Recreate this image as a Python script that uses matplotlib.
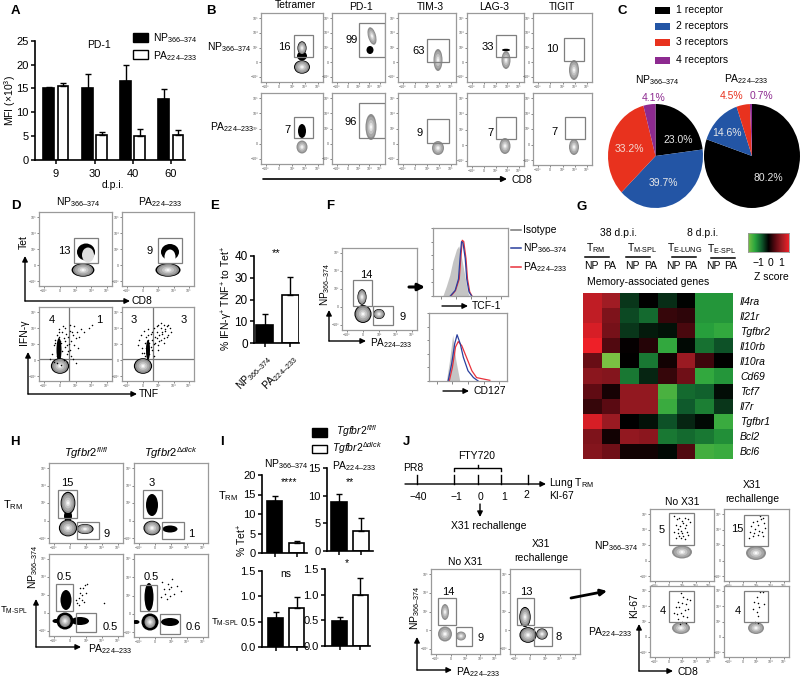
import matplotlib
matplotlib.use("Agg")
import matplotlib.pyplot as plt
from matplotlib.colors import LinearSegmentedColormap
from matplotlib.patches import Ellipse, Rectangle
import numpy as np

plt.rcParams["font.family"] = ["Liberation Sans", "DejaVu Sans"]
plt.rcParams["mathtext.fontset"] = "custom"
plt.rcParams["mathtext.rm"] = "Liberation Sans"
plt.rcParams["mathtext.it"] = "Liberation Sans:italic"
plt.rcParams["mathtext.bf"] = "Liberation Sans:bold"
plt.rcParams["mathtext.default"] = "regular"

NP = "NP$_{366\u2013374}$"
PA = "PA$_{224\u2013233}$"
TGF_FL = r"$\mathit{Tgfbr2}^{\mathit{fl/fl}}$"
TGF_DL = r"$\mathit{Tgfbr2}^{\mathit{\Delta dlck}}$"
FLOW_TICKS = ["\u221210\u00b3", "0", "10\u00b3", "10\u2074", "10\u2075"]

# Panel A
a_days = ["9", "30", "40", "60"]
a_np = [15.0, 15.1, 16.5, 12.7]
a_np_top = [15.3, 18.0, 20.0, 14.9]
a_pa = [15.6, 5.1, 5.0, 5.2]
a_pa_top = [16.2, 5.9, 6.5, 6.3]

# Panel C
c_labels = ["1 receptor", "2 receptors", "3 receptors", "4 receptors"]
c_np = [23.0, 39.7, 33.2, 4.1]
c_pa = [80.2, 14.6, 4.5, 0.7]
c_colors = ["#000000", "#2355a5", "#e8321e", "#8d2a90"]

# Panel E
e_vals = [8.5, 22.0]
e_tops = [13.2, 30.5]

# Panel F histograms (x and y in % of the box)
tcf_iso_x = [14, 18.5, 23, 27, 32, 35, 38, 43, 47, 49]
tcf_iso_y = [0, 14, 30, 50, 68, 73, 60, 30, 5, 0]
tcf_np_x = [23, 29.5, 34, 36, 38, 40, 43, 45, 48, 51.5]
tcf_np_y = [0, 8, 25, 55, 80, 78, 55, 25, 6, 0]
tcf_pa_x = [24, 30, 35, 37, 39, 41, 44, 46, 49, 52]
tcf_pa_y = [0, 8, 25, 55, 82, 80, 55, 25, 6, 0]
cd127_iso_x = [23, 27, 31, 35, 40]
cd127_iso_y = [0, 30, 67, 30, 0]
cd127_np_x = [24.5, 29, 33, 36, 40, 44, 50, 57, 63]
cd127_np_y = [0, 25, 55, 68, 55, 35, 15, 5, 0]
cd127_pa_x = [26, 30, 34, 37.5, 42, 48, 55, 61, 78]
cd127_pa_y = [0, 20, 50, 58, 52, 35, 15, 5, 1]

# Panel G
g_genes = ["Il4ra", "Il21r", "Tgfbr2", "Il10rb", "Il10ra", "Cd69", "Tcf7", "Il7r",
           "Tgfbr1", "Bcl2", "Bcl6"]
g_z = [
    [1.2, 1.0, -0.3, 0.0, -0.25, -0.02, -0.9, -0.9],
    [1.2, 0.75, -0.4, -0.6, 0.3, 0.25, -0.9, -0.9],
    [1.35, 0.7, -0.3, -0.15, -0.1, 0.4, -0.95, -1.05],
    [1.5, 0.45, 0.03, 0.2, -1.05, -0.05, -0.65, -0.45],
    [0.6, -1.5, 0.0, -0.7, 0.1, 0.95, 0.35, 0.0],
    [0.85, 0.8, -0.7, -0.2, 0.3, 0.65, -1.05, -0.9],
    [0.55, 0.12, 0.9, 0.9, -1.2, -0.6, -0.55, -0.08],
    [0.3, 0.5, 0.9, 0.9, -1.1, -0.5, -0.75, -0.3],
    [1.35, 0.95, 0.0, -0.1, -0.45, -0.2, -0.05, -1.1],
    [0.75, 0.1, 0.9, 0.85, -0.7, -0.6, -0.7, -0.85],
    [0.8, 0.65, 0.1, 0.1, -0.05, 0.45, -1.15, -1.1],
]

# Panel I
i_np_trm = [13.4, 2.5]
i_np_trm_top = [14.7, 3.2]
i_pa_trm = [8.8, 3.7]
i_pa_trm_top = [10.3, 5.9]
i_np_spl = [0.58, 0.77]
i_np_spl_top = [0.69, 0.99]
i_pa_spl = [0.48, 1.0]
i_pa_spl_top = [0.57, 1.33]

# Flow plot events (x and y in % of the box)
ifn1_x = [15, 18, 20, 22, 24, 26, 28, 30, 32, 34, 36, 38, 40, 42, 44, 46, 48, 50, 52, 55, 58, 62, 68, 72,
          20, 24, 28, 31, 35, 39, 43, 47, 51, 30, 34, 38, 22, 27, 33, 37, 41, 45, 36, 40, 44, 25, 29, 48, 53, 42]
ifn1_y = [30, 36, 48, 56, 62, 44, 70, 52, 66, 58, 72, 48, 60, 68, 54, 62, 74, 58, 66, 60, 70, 66, 72, 76,
          26, 24, 60, 40, 46, 36, 42, 30, 24, 22, 28, 26, 52, 66, 74, 64, 50, 66, 54, 40, 34, 34, 54, 48, 44, 76]
ifn2_x = [22, 24, 26, 28, 30, 32, 34, 36, 38, 40, 42, 44, 46, 48, 50, 52, 54, 56, 58, 60, 62, 64, 66, 68,
          30, 34, 38, 42, 46, 50, 54, 58, 62, 36, 40, 44, 48, 52, 56, 60, 28, 32, 44, 50, 58, 64, 36, 42, 48, 54]
ifn2_y = [48, 56, 62, 44, 68, 52, 60, 70, 52, 64, 56, 72, 60, 66, 76, 62, 72, 66, 76, 68, 74, 62, 72, 66,
          38, 44, 36, 42, 52, 48, 56, 58, 60, 62, 46, 50, 74, 54, 64, 70, 38, 34, 34, 42, 52, 76, 56, 66, 58, 78]
spl_fl_x = [38, 40, 42, 44, 46, 48, 50, 52, 45, 41, 37, 74, 42, 47]
spl_fl_y = [40, 46, 52, 44, 58, 62, 52, 64, 50, 38, 44, 40, 58, 42]
spl_dl_x = [36, 40, 42, 46, 48, 50, 54, 58, 64, 44, 52, 38, 47]
spl_dl_y = [48, 58, 52, 64, 50, 60, 52, 62, 56, 46, 70, 66, 58]
ki_np_no_x = [38, 42, 45, 50, 55, 60, 62, 40, 47, 52, 57, 43, 48, 54, 38, 44, 50, 58, 46, 52, 41, 49, 60, 55]
ki_np_no_y = [90, 86, 88, 84, 88, 86, 82, 78, 76, 80, 78, 72, 70, 74, 68, 66, 66, 68, 62, 62, 60, 60, 64, 58]
ki_np_x31_x = [55, 60, 50, 45, 62, 52, 57, 42, 48, 63, 54, 40, 46, 58, 38, 44, 52, 60]
ki_np_x31_y = [90, 88, 84, 82, 80, 78, 86, 76, 72, 74, 70, 68, 66, 68, 60, 62, 64, 62]
ki_pa_no_x = [48, 52, 58, 44, 50, 56, 62, 40, 46, 54, 60, 42, 48, 52, 58, 44, 50, 38, 56, 47]
ki_pa_no_y = [90, 84, 82, 78, 76, 74, 80, 70, 70, 66, 68, 60, 62, 58, 56, 54, 50, 62, 48, 46]
ki_pa_x31_x = [56, 60, 50, 52, 46, 44, 62, 54, 50, 52, 48, 53]
ki_pa_x31_y = [92, 92, 84, 76, 78, 68, 74, 70, 64, 58, 50, 48]

fig = plt.figure(figsize=(8.0, 6.81), dpi=100)
W, H = 800.0, 681.0


def px_axes(l, t, r, b, **kw):
    return fig.add_axes([l / W, 1 - b / H, (r - l) / W, (b - t) / H], **kw)


# overlay in picture pixels, carries texts and arrows
ov = px_axes(0, 0, W, H, zorder=20)
ov.set_xlim(0, W)
ov.set_ylim(H, 0)
ov.axis("off")


def txt(x, y, s, size=8, ha="center", color="black", **kw):
    ov.text(x, y, s, fontsize=size, ha=ha, va="center", color=color, **kw)


def arrow(x0, y0, x1, y1, lw=1.0, ms=8):
    ov.annotate("", xy=(x1, y1), xytext=(x0, y0),
                arrowprops=dict(arrowstyle="-|>", lw=lw, color="black", mutation_scale=ms,
                                shrinkA=0, shrinkB=0))


def axis_arrows(x, y_bottom, y_top, x_right):
    arrow(x, y_bottom, x_right, y_bottom)
    arrow(x, y_bottom, x, y_top)


def flow(l, t, r, b):
    # box uses picture pixels as its scale so gates sit where they were read
    ax = px_axes(l, t, r, b)
    ax.set_xlim(l, r)
    ax.set_ylim(b, t)
    for s in ax.spines.values():
        s.set_color("#9a9a9a")
        s.set_linewidth(0.9)
    ax.set_xticks(np.linspace(l + 5, r - 5, 5))
    ax.set_yticks(np.linspace(b - 5, t + 5, 5))
    ax.set_xticklabels(FLOW_TICKS, fontsize=2.6, color="#555555")
    ax.set_yticklabels(FLOW_TICKS, fontsize=2.6, color="#555555")
    ax.tick_params(length=1.6, width=0.5, color="#555555", pad=0.6)
    return ax


def gate(ax, l, t, r, b):
    ax.add_patch(Rectangle((l, t), r - l, b - t, fill=False, ec="#7f7f7f", lw=0.9, zorder=6))


def blob(ax, cx, cy, w, h, halo=False, angle=0):
    if halo:
        ax.add_patch(Ellipse((cx, cy), w * 1.14, h * 1.12, angle=angle, fc="black", ec="none", zorder=3))
    layers = [(1.0, "#8c8c8c"), (0.8, "#a8a8a8"), (0.55, "#c4c4c4"), (0.32, "#e2e2e2"), (0.13, "#ffffff")]
    for k, c in layers:
        ax.add_patch(Ellipse((cx, cy), w * k, h * k, angle=angle, fc=c, ec="none", zorder=4))


def dense(ax, cx, cy, w, h, angle=0):
    ax.add_patch(Ellipse((cx, cy), w, h, angle=angle, fc="black", ec="none", zorder=3))


def dots(ax, xs, ys):
    ax.scatter(np.array(xs) / 100, np.array(ys) / 100, s=1.2, c="black", linewidths=0,
               transform=ax.transAxes, zorder=5)


def bars(l, t, r, b, ymax, yticks, labels, centers, width, vals, tops, size=8):
    ax = px_axes(l, t, r, b)
    ax.set_xlim(l, r)
    ax.set_ylim(0, ymax)
    ax.spines[["top", "right"]].set_visible(False)
    ax.spines[["left", "bottom"]].set_linewidth(1.2)
    for i, (c, v, e) in enumerate(zip(centers, vals, tops)):
        ax.bar(c, v, width=width, color="black" if i % 2 == 0 else "white", edgecolor="black", linewidth=1.2)
        ax.errorbar(c, v, yerr=[[0], [e - v]], color="black", capsize=2.2, elinewidth=1.0, capthick=1.0)
    ax.set_yticks(yticks)
    ax.set_yticklabels(labels, fontsize=size)
    ax.tick_params(axis="y", length=3, width=1.1, pad=1.5)
    ax.tick_params(axis="x", length=3, width=1.1)
    ax.patch.set_alpha(0)
    return ax


# panel letters
for x, y, s in [(15, 11, "A"), (211, 11, "B"), (622, 11, "C"), (16, 206, "D"), (215, 206, "E"),
                (330, 206, "F"), (582, 207, "G"), (15, 442, "H"), (222, 442, "I"), (406, 442, "J")]:
    txt(x, y, s, size=9.5, fontweight="bold")

# A
ax = bars(35, 41, 185, 159.5, 25, [0, 5, 10, 15, 20, 25], ["0", "5", "10", "15", "20", "25"],
          [48.5, 63, 87.5, 101.5, 125.5, 139.5, 163.5, 178],
          10.5,
          [v for p in zip(a_np, a_pa) for v in p], [v for p in zip(a_np_top, a_pa_top) for v in p])
ax.set_xticks([55.5, 94.5, 132.5, 171])
ax.set_xticklabels(a_days, fontsize=8)
txt(113, 185, "d.p.i.", size=7.5)
txt(10, 100, "MFI ($\\times$10$^{3}$)", size=7.5, rotation=90)
txt(99, 45, "PD-1", size=7.5)
ov.add_patch(Rectangle((133, 33), 15, 9, fc="black", ec="black", lw=1))
ov.add_patch(Rectangle((133, 50), 15, 9, fc="white", ec="black", lw=1))
txt(153, 38, NP, size=7.5, ha="left")
txt(153, 56, PA, size=7.5, ha="left")

# B
txt(229, 47, NP, size=7.5)
txt(232, 127, PA, size=7.5)
for x, y, s in [(295, 5, "Tetramer"), (361, 7, "PD-1"), (430, 7, "TIM-3"), (494, 7, "LAG-3"), (562, 7, "TIGIT")]:
    txt(x, y, s, size=7.5)
a1 = flow(261, 13, 323, 82)
gate(a1, 294, 35, 313, 57)
blob(a1, 302, 67, 14, 12, halo=True)
dense(a1, 302, 56, 10, 9)
blob(a1, 302, 48, 8, 12, halo=True)
txt(284, 47, "16")
a2 = flow(332, 13, 385, 82)
gate(a2, 359, 23, 385, 57)
dense(a2, 370, 50, 7, 8)
blob(a2, 372, 36, 8, 18, angle=-15)
txt(352, 40, "99")
a3 = flow(398, 13, 456, 82)
gate(a3, 427, 39, 449, 62)
blob(a3, 438, 60, 9, 22)
txt(419, 51, "63")
a4 = flow(467, 13, 524, 82)
gate(a4, 496, 35, 516, 57)
blob(a4, 506, 60, 9, 18)
dense(a4, 506, 50, 8, 2.5)
txt(488, 47, "33")
a5 = flow(533, 13, 592, 82)
gate(a5, 564, 38, 584, 61)
blob(a5, 574, 70, 10, 20)
txt(552, 49, "10")
a1 = flow(261, 93, 323, 164)
gate(a1, 294, 117, 313, 138)
blob(a1, 302, 147, 11, 13)
dense(a1, 302, 131, 8, 14)
txt(287, 130, "7")
a2 = flow(332, 93, 385, 164)
gate(a2, 359, 103, 385, 138)
blob(a2, 371, 127, 11, 26)
txt(351, 122, "96")
a3 = flow(398, 93, 456, 164)
gate(a3, 427, 119, 449, 143)
blob(a3, 438, 148, 12, 14)
txt(420, 133, "9")
a4 = flow(467, 93, 524, 166)
gate(a4, 496, 117, 516, 139)
blob(a4, 505, 146, 11, 16)
txt(490, 133, "7")
a5 = flow(533, 93, 592, 165)
gate(a5, 565, 117, 585, 139)
blob(a5, 574, 147, 10, 16)
txt(554, 132, "7")
arrow(263, 179, 507, 179, lw=1.2)
txt(511, 180, "CD8", size=7.5, ha="left")

# C
for y, lab, col in zip([10, 26, 42, 60], c_labels, c_colors):
    ov.add_patch(Rectangle((655, y - 3.5), 15, 7, fc=col, ec="none"))
    txt(676, y, lab, size=7.5, ha="left")
for (l, r), vals in zip([(608, 703), (704, 800)], [c_np, c_pa]):
    ax = px_axes(l, 104, r, 208)
    ax.pie(vals, colors=c_colors, startangle=90, counterclock=False, radius=1.0)
    ax.set_aspect("auto")
    ax.set_xlim(-1, 1)
    ax.set_ylim(-1, 1)
txt(657, 80, NP, size=7.5)
txt(746, 79, PA, size=7.5)
for x, y, v, c in [(678, 140, c_np[0], "#e8e8e8"), (663, 183, c_np[1], "#e8e8e8"), (629, 149, c_np[2], "#f4d8d0"),
                   (654, 98, c_np[3], c_colors[3]), (768, 178, c_pa[0], "#e8e8e8"), (727, 133, c_pa[1], "#e8e8e8"),
                   (732, 96, c_pa[2], c_colors[2]), (761, 96, c_pa[3], c_colors[3])]:
    txt(x, y, f"{v:.1f}%", size=7.5, color=c)

# D
txt(78, 202, NP, size=7.5)
txt(160, 202, PA, size=7.5)
a1 = flow(39, 212, 112, 286)
gate(a1, 74, 238, 98, 263)
dense(a1, 86, 252, 18, 17)
a1.add_patch(Ellipse((88, 255), 12, 15, fc="#dddddd", ec="none", zorder=4))
blob(a1, 83, 270, 20, 12, halo=True)
txt(64, 251, "13")
a2 = flow(122, 212, 194, 286)
gate(a2, 158, 238, 182, 263)
dense(a2, 170, 252, 18, 16)
a2.add_patch(Ellipse((170, 257), 11, 15, fc="white", ec="none", zorder=4))
blob(a2, 168, 270, 22, 12, halo=True)
txt(150, 251, "9")
a1 = flow(39, 307, 112, 381)
a1.axvline(69, color="#777777", lw=0.9)
a1.axhline(359, color="#777777", lw=0.9)
dots(a1, ifn1_x, ifn1_y)
dense(a1, 59, 350, 5, 24)
blob(a1, 60, 366, 16, 14, halo=True)
txt(52, 320, "4")
txt(99, 320, "1")
a2 = flow(122, 307, 194, 381)
a2.axvline(153, color="#777777", lw=0.9)
a2.axhline(359, color="#777777", lw=0.9)
dots(a2, ifn2_x, ifn2_y)
dense(a2, 148, 350, 4, 20)
blob(a2, 143, 366, 16, 14, halo=True)
txt(134, 320, "3")
txt(184, 320, "3")
axis_arrows(25, 301, 256, 130)
txt(132, 301, "CD8", size=7.5, ha="left")
txt(24, 242, "Tet", size=7.5, rotation=90)
axis_arrows(28, 394, 352, 137)
txt(139, 394, "TNF", size=7.5, ha="left")
txt(24, 332, "IFN-\u03b3", size=7.5, rotation=90)

# E
ax = bars(254, 256, 299, 343, 40, [0, 10, 20, 30, 40], ["0", "10", "20", "30", "40"],
          [264.5, 290], 17, e_vals, e_tops, size=8.5)
ax.set_xticks([264.5, 290])
ax.set_xticklabels([NP, PA], rotation=45, ha="right", rotation_mode="anchor", fontsize=7.5)
txt(227, 298, "% IFN-\u03b3$^{+}$ TNF$^{+}$ to Tet$^{+}$", size=7.5, rotation=90)
txt(276, 253, "**", size=8)

# F
a1 = flow(342, 248, 417, 330)
gate(a1, 353, 280, 372, 306)
gate(a1, 373, 306, 393, 325)
blob(a1, 362, 297, 8, 14, halo=True)
blob(a1, 379, 314, 10, 9, halo=True)
blob(a1, 363, 314, 15, 16, halo=True)
txt(366, 275, "14")
txt(403, 317, "9")
axis_arrows(329, 341, 310, 366)
txt(325, 284, NP, size=7.2, rotation=90)
txt(370, 343, PA, size=7.2, ha="left")
arrow(409, 287, 425, 287, lw=2.2, ms=10)
for box, iso, np_h, pa_h in [((433, 228, 508, 296), (tcf_iso_x, tcf_iso_y), (tcf_np_x, tcf_np_y), (tcf_pa_x, tcf_pa_y)),
                             ((429, 313, 507, 381), (cd127_iso_x, cd127_iso_y), (cd127_np_x, cd127_np_y),
                              (cd127_pa_x, cd127_pa_y))]:
    ax = px_axes(*box)
    ax.set_xlim(0, 100)
    ax.set_ylim(0, 100)
    ax.fill(iso[0], iso[1], color="#c4c4c4", lw=0)
    ax.plot(pa_h[0], pa_h[1], color="#e8323c", lw=0.9)
    ax.plot(np_h[0], np_h[1], color="#2a3f9d", lw=0.9)
    for s in ax.spines.values():
        s.set_color("#9a9a9a")
        s.set_linewidth(0.9)
    ax.set_xticks([10, 30, 50, 70, 90])
    ax.set_yticks([0, 20, 40, 60, 80, 100])
    ax.tick_params(length=1.8, width=0.5, color="#555555", labelleft=False, labelbottom=False)
arrow(442, 306, 468, 306)
txt(472, 306, "TCF-1", size=7.5, ha="left")
arrow(443, 391, 469, 391)
txt(474, 391, "CD127", size=7.5, ha="left")
for y, lab, c in [(230, "Isotype", "#777777"), (248, NP, "#2a3f9d"), (267, PA, "#e8323c")]:
    ov.plot([511, 521], [y, y], color=c, lw=1.1)
    txt(523, y, lab, size=7.5, ha="left")

# G
z_cmap = LinearSegmentedColormap.from_list("z", [(0, "#7ac143"), (1 / 6, "#2aa63e"), (1 / 3, "#0f5a2c"), (0.5, "#000000"),
                                                 (2 / 3, "#5a0a12"), (5 / 6, "#a01c24"), (1, "#ee2028")])
ax = px_axes(583, 293, 733, 459)
ax.imshow(np.array(g_z), cmap=z_cmap, vmin=-1.5, vmax=1.5, aspect="auto", interpolation="nearest")
ax.set_xticks([])
ax.yaxis.tick_right()
ax.set_yticks(range(len(g_genes)))
ax.set_yticklabels(g_genes, fontsize=7.5, style="italic")
ax.tick_params(axis="y", length=0, pad=5)
for s in ax.spines.values():
    s.set_visible(False)
cb = px_axes(748, 233, 789, 252)
cb.imshow(np.linspace(-1.5, 1.5, 128).reshape(1, -1), cmap=z_cmap, vmin=-1.5, vmax=1.5, aspect="auto")
cb.set_xticks([])
cb.set_yticks([])
for s in cb.spines.values():
    s.set_color("#999999")
    s.set_linewidth(0.6)
txt(618, 233, "38 d.p.i.", size=7.5)
txt(703, 233, "8 d.p.i.", size=7.5)
for x, y, s in [(596, 248, "T$_{RM}$"), (642, 248, "T$_{M\u2011SPL}$"), (685, 248, "T$_{E\u2011LUNG}$"), (722, 249, "T$_{E\u2011SPL}$")]:
    txt(x, y, s, size=7.5)
for x0, x1, y in [(585, 609, 257), (626, 650, 257), (672, 696, 257), (711, 735, 258)]:
    ov.plot([x0, x1], [y, y], color="black", lw=1.1)
for x, s in [(591, "NP"), (610, "PA"), (632, "NP"), (651, "PA"), (673, "NP"), (691, "PA"), (713, "NP"), (731, "PA")]:
    txt(x, 266, s, size=7.5)
txt(648, 282, "Memory-associated genes", size=7.5)
for x, s in [(758, "\u22121"), (771, "0"), (781, "1")]:
    txt(x, 263, s, size=7.5)
txt(771, 277, "Z score", size=7.5)

# H
txt(86, 453, TGF_FL, size=8)
txt(171, 453, TGF_DL, size=8)
a1 = flow(49, 463, 123, 543)
gate(a1, 58, 490, 77, 518)
gate(a1, 77, 522, 99, 539)
dense(a1, 68, 516, 8, 12)
blob(a1, 68, 503, 13, 20, halo=True)
blob(a1, 85, 529, 15, 9, halo=True)
blob(a1, 68, 528, 16, 15, halo=True)
txt(67, 483, "15")
txt(107, 534, "9")
a2 = flow(134, 463, 208, 543)
gate(a2, 143, 490, 162, 518)
gate(a2, 162, 522, 184, 539)
dense(a2, 152, 505, 12, 22)
dense(a2, 170, 529, 15, 7)
blob(a2, 152, 528, 15, 13, halo=True)
txt(152, 483, "3")
txt(191, 534, "1")
a1 = flow(49, 554, 123, 636)
gate(a1, 56, 584, 73, 611)
gate(a1, 76, 613, 96, 632)
dots(a1, spl_fl_x, spl_fl_y)
dense(a1, 66, 600, 11, 20)
dense(a1, 80, 621, 18, 8)
dense(a1, 56, 621, 7, 4)
a1.add_patch(Ellipse((65, 621), 17, 17, fc="black", ec="none", zorder=3))
blob(a1, 65, 621, 11, 12)
txt(64, 577, "0.5")
txt(110, 627, "0.5")
a2 = flow(134, 554, 208, 637)
gate(a2, 140, 585, 157, 611)
gate(a2, 160, 614, 180, 634)
dots(a2, spl_dl_x, spl_dl_y)
dense(a2, 149, 597, 9, 28)
dense(a2, 170, 622, 18, 8)
dense(a2, 136, 622, 7, 4)
a2.add_patch(Ellipse((150, 622), 17, 17, fc="black", ec="none", zorder=3))
blob(a2, 150, 622, 11, 12)
txt(151, 577, "0.5")
txt(193, 627, "0.6")
txt(13, 505, "T$_{RM}$", size=8)
txt(14, 610, "T$_{M\u2011SPL}$", size=6.8)
axis_arrows(36, 647, 599, 81)
txt(33, 567, NP, size=7.5, rotation=90)
txt(88, 649, PA, size=7.5, ha="left")

# I
tick_top = {"NP": ["0", "5", "10", "15", "20"], "PA": ["0", "5", "10", "15"], "S": ["0.0", "0.5", "1.0", "1.5"]}
ax = bars(262, 475, 307, 553, 20, [0, 5, 10, 15, 20], tick_top["NP"], [274.5, 296.5], 15, i_np_trm, i_np_trm_top)
ax.set_xticks([274.5, 296.5])
ax.set_xticklabels([])
ax = bars(327, 468, 373, 551, 15, [0, 5, 10, 15], tick_top["PA"], [339, 361], 16, i_pa_trm, i_pa_trm_top)
ax.set_xticks([339, 361])
ax.set_xticklabels([])
ax = bars(262, 571, 307, 647, 1.5, [0, 0.5, 1, 1.5], tick_top["S"], [275.5, 296.5], 15, i_np_spl, i_np_spl_top)
ax.set_xticks([275.5, 296.5])
ax.set_xticklabels([])
ax = bars(325, 569, 370, 646, 1.5, [0, 0.5, 1, 1.5], tick_top["S"], [339.5, 360], 15, i_pa_spl, i_pa_spl_top)
ax.set_xticks([339.5, 360])
ax.set_xticklabels([])
txt(286, 464, NP, size=7.5)
txt(354, 466, PA, size=7.5)
txt(289, 482, "****", size=7.5)
txt(350, 482, "**", size=7.5)
txt(286, 574, "ns", size=7.5)
txt(347, 563, "*", size=7.5)
txt(242, 540, "% Tet$^{+}$", size=7.5, rotation=90)
txt(228, 496, "T$_{RM}$", size=8)
txt(225, 622, "T$_{M\u2011SPL}$", size=6.8)
ov.add_patch(Rectangle((312, 428), 15, 9, fc="black", ec="black", lw=1))
ov.add_patch(Rectangle((312, 445), 15, 8, fc="white", ec="black", lw=1))
txt(336, 431, TGF_FL, size=7.5, ha="left")
txt(332, 448, TGF_DL, size=7.5, ha="left")

# J timeline
arrow(405, 484, 546, 484)
for x in [417, 454, 478, 501, 528]:
    ov.plot([x, x], [475, 484], color="black", lw=1.0)
ov.plot([454, 454, 501, 501], [471, 468, 468, 471], color="black", lw=1.0)
ov.plot([478, 478], [468, 465], color="black", lw=1.0)
txt(477, 456, "FTY720", size=7.5)
txt(413, 468, "PR8", size=7.5)
for x, y, s in [(418, 497, "\u221240"), (456, 497, "\u22121"), (481, 497, "0"), (504, 497, "1"), (526, 495, "2")]:
    txt(x, y, s, size=7.5)
txt(549, 483, "Lung T$_{RM}$", size=7.5, ha="left")
txt(549, 496, "KI-67", size=7.5, ha="left")
arrow(480, 504, 480, 517)
txt(489, 526, "X31 rechallenge", size=7.5)

# J left flow
txt(465, 562, "No X31", size=7.5)
txt(541, 544, "X31", size=7.5)
txt(541, 558, "rechallenge", size=7.5)
a1 = flow(431, 569, 500, 654)
gate(a1, 438, 598, 456, 625)
gate(a1, 456, 627, 472, 646)
blob(a1, 445, 612, 8, 16)
blob(a1, 461, 636, 10, 9)
blob(a1, 445, 634, 14, 15)
txt(448, 592, "14")
txt(481, 638, "9")
a2 = flow(510, 569, 580, 654)
gate(a2, 517, 598, 534, 625)
gate(a2, 534, 627, 552, 646)
blob(a2, 525, 617, 10, 18, halo=True)
blob(a2, 542, 634, 10, 10, halo=True)
blob(a2, 528, 635, 15, 14, halo=True)
txt(526, 592, "13")
txt(559, 637, "8")
axis_arrows(417, 670, 637, 452)
txt(415, 608, NP, size=7.5, rotation=90)
txt(456, 672, PA, size=7.5, ha="left")
arrow(571, 598, 607, 591, lw=2.0, ms=9)

# J right flow
txt(682, 502, "No X31", size=7.5)
txt(752, 485, "X31", size=7.5)
txt(752, 499, "rechallenge", size=7.5)
a1 = flow(650, 509, 714, 581)
gate(a1, 669, 513, 694, 545)
dots(a1, ki_np_no_x, ki_np_no_y)
blob(a1, 682, 552, 20, 13)
txt(662, 530, "5")
a2 = flow(724, 509, 789, 581)
gate(a2, 744, 515, 768, 546)
dots(a2, ki_np_x31_x, ki_np_x31_y)
blob(a2, 756, 553, 20, 14)
txt(737, 529, "15")
a1 = flow(650, 586, 714, 657)
gate(a1, 669, 591, 694, 622)
dots(a1, ki_pa_no_x, ki_pa_no_y)
blob(a1, 681, 628, 18, 12)
txt(663, 611, "4")
a2 = flow(724, 586, 789, 657)
gate(a2, 744, 591, 768, 622)
dots(a2, ki_pa_x31_x, ki_pa_x31_y)
blob(a2, 756, 628, 16, 12)
txt(738, 611, "4")
txt(616, 546, NP, size=7.5)
txt(610, 632, PA, size=7.5)
axis_arrows(639, 671, 624, 673)
txt(634, 606, "KI-67", size=7.5, rotation=90)
txt(678, 672, "CD8", size=7.5, ha="left")

fig.savefig("out.png", dpi=100)
